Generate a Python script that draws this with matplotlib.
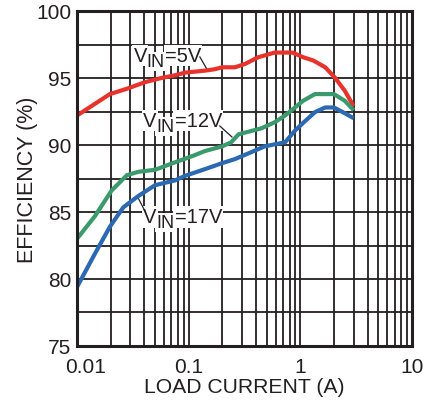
import matplotlib
matplotlib.use("Agg")
import matplotlib.pyplot as plt
import matplotlib.transforms as mtransforms
from matplotlib.ticker import FixedLocator, NullFormatter, NullLocator

plt.rcParams['font.family'] = ['Liberation Sans', 'DejaVu Sans']

# Efficiency vs load current for three input voltages
red_I = [0.01, 0.0197, 0.028, 0.041, 0.057, 0.075, 0.093, 0.14, 0.17, 0.2, 0.26,
         0.32, 0.42, 0.59, 0.85, 1.06, 1.31, 1.67, 2.03, 2.5, 3.0]
red_E = [92.2, 93.8, 94.2, 94.7, 95.0, 95.2, 95.4, 95.55, 95.65, 95.8, 95.8,
         96.05, 96.55, 96.9, 96.9, 96.55, 96.3, 95.8, 95.05, 94.05, 92.9]

green_I = [0.01, 0.0145, 0.0204, 0.028, 0.0355, 0.05, 0.075, 0.11, 0.14, 0.2, 0.24,
           0.28, 0.45, 0.59, 0.73, 1.06, 1.35, 2.0, 2.5, 3.0]
green_E = [83.0, 84.7, 86.6, 87.75, 88.0, 88.15, 88.7, 89.2, 89.55, 89.9, 90.2,
           90.8, 91.25, 91.7, 92.2, 93.3, 93.8, 93.8, 93.3, 92.6]

blue_I = [0.01, 0.0145, 0.0197, 0.026, 0.0355, 0.05, 0.075, 0.093, 0.14, 0.2, 0.26,
          0.36, 0.48, 0.59, 0.73, 0.89, 1.06, 1.35, 1.67, 2.0, 2.4, 3.0]
blue_E = [79.4, 81.9, 83.9, 85.35, 86.2, 87.0, 87.35, 87.7, 88.2, 88.65, 88.95,
          89.45, 89.9, 90.05, 90.2, 91.05, 91.65, 92.45, 92.8, 92.8, 92.45, 92.0]

x_ticks = [0.01, 0.1, 1, 10]
x_tick_labels = ['0.01', '0.1', '1', '10']
y_ticks = [75, 80, 85, 90, 95, 100]
y_tick_labels = ['75', '80', '85', '90', '95', '100']

ink = '#231f20'

fig = plt.figure(figsize=(4.27, 4.02), dpi=100)
ax = fig.add_axes([77 / 427, 1 - 347 / 402, 335 / 427, 335 / 402])
ax.set_xscale('log')
ax.set_xlim(0.01, 10)
ax.set_ylim(75, 100)

# grid: decades + 2..9 minors, 2.5% steps vertically
minor_x = [m * 10.0 ** e for e in (-2, -1, 0) for m in range(2, 10)]
for xv in x_ticks[1:-1] + minor_x:
    ax.axvline(xv, color=ink, lw=1.3, zorder=1)
for yv in [75 + 2.5 * k for k in range(1, 10)]:
    ax.axhline(yv, color=ink, lw=1.3, zorder=1)

ax.xaxis.set_major_locator(FixedLocator(x_ticks))
ax.xaxis.set_minor_locator(NullLocator())
ax.xaxis.set_minor_formatter(NullFormatter())
ax.set_xticks(x_ticks)
ax.set_xticklabels(x_tick_labels)
ax.set_yticks(y_ticks)
ax.set_yticklabels(y_tick_labels)
ax.tick_params(axis='both', length=0, labelsize=15, colors=ink)
ax.tick_params(axis='x', pad=8)
ax.tick_params(axis='y', pad=4)
first = ax.get_xticklabels()[0]
first.set_transform(first.get_transform() +
                    mtransforms.ScaledTranslation(9 / 100, 0, fig.dpi_scale_trans))

for s in ax.spines.values():
    s.set_linewidth(2.2)
    s.set_color(ink)
    s.set_zorder(5)

ax.plot(red_I, red_E, color='#e8332c', lw=3.0, zorder=4, solid_capstyle='butt')
ax.plot(green_I, green_E, color='#3b9a6c', lw=3.0, zorder=4, solid_capstyle='butt')
ax.plot(blue_I, blue_E, color='#2b69b3', lw=3.0, zorder=4, solid_capstyle='butt')


def vin_label(x, y, volts):
    """Draw 'V', a lowered 'IN' subscript and '=..V' on a white backing."""
    box = dict(facecolor='white', edgecolor='none', pad=0.8)
    v = ax.text(x, y, 'V', fontsize=14.5, color=ink, ha='left', va='bottom',
                zorder=3, bbox=box)
    sub = ax.annotate('IN', xy=(1, 0), xycoords=v, xytext=(0, -3.2),
                      textcoords='offset points', fontsize=13, color=ink,
                      ha='left', va='bottom', zorder=3, bbox=box)
    ax.annotate('=' + volts, xy=(1, 0), xycoords=(sub, v), fontsize=14.5,
                color=ink, ha='left', va='bottom', zorder=3, bbox=box)


vin_label(0.032, 95.95, '5V')
vin_label(0.039, 91.10, '12V')
vin_label(0.039, 83.93, '17V')
ax.plot([0.126, 0.149], [96.57, 95.52], color=ink, lw=0.9, zorder=3)
ax.plot([0.19, 0.244], [91.42, 90.6], color=ink, lw=0.9, zorder=3)
ax.plot([0.0345, 0.0406], [86.2, 85.07], color=ink, lw=0.9, zorder=3)

ax.set_xlabel('LOAD CURRENT (A)', fontsize=15.2, color=ink, labelpad=1)
ax.set_ylabel('EFFICIENCY (%)', fontsize=15.5, color=ink, labelpad=-1)

fig.savefig('out.png', dpi=100)
